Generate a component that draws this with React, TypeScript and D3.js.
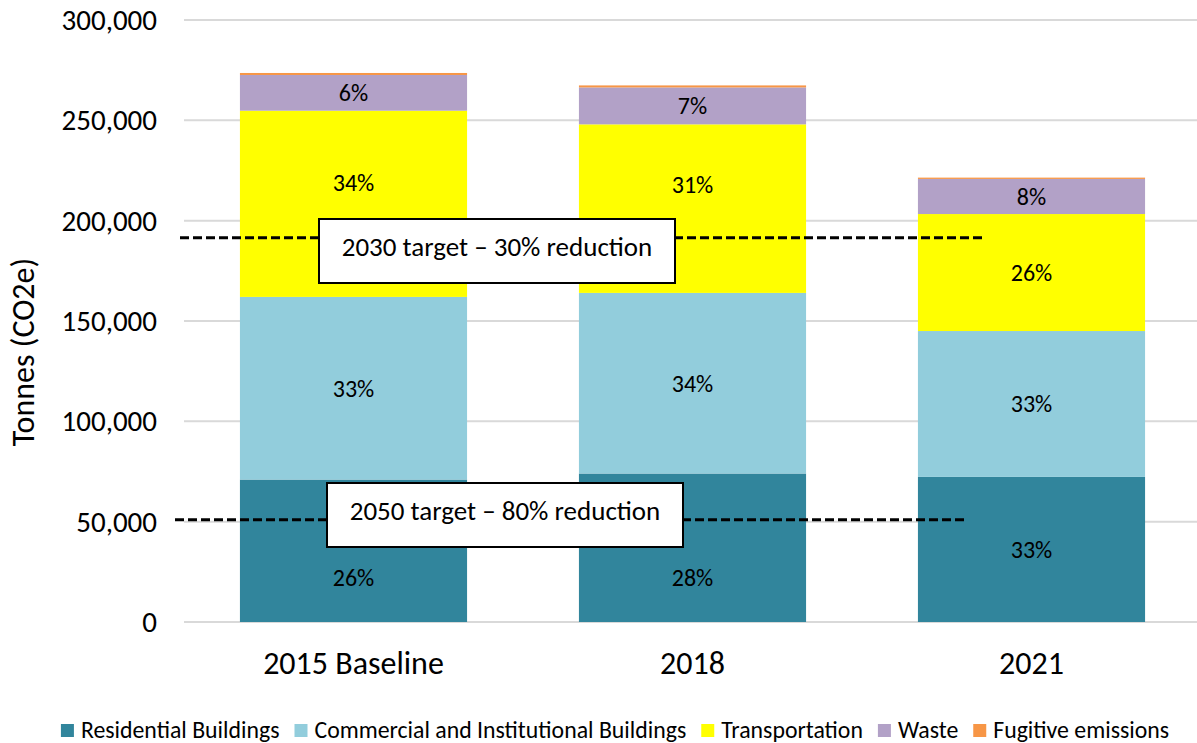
import React from "react";
import * as d3 from "d3";

// ---------- data ----------
const categories = ["2015 Baseline", "2018", "2021"];
const seriesNames = [
  "Residential Buildings",
  "Commercial and Institutional Buildings",
  "Transportation",
  "Waste",
  "Fugitive emissions",
];
const residential = [71000, 74000, 72300];
const commercial = [91000, 90000, 72700];
const transportation = [92800, 84000, 58300];
const waste = [17800, 18400, 17500];
const fugitive = [1000, 1000, 650];

const residentialLabels = ["26%", "28%", "33%"];
const commercialLabels = ["33%", "34%", "33%"];
const transportationLabels = ["34%", "31%", "26%"];
const wasteLabels = ["6%", "7%", "8%"];

const yTicks = [0, 50000, 100000, 150000, 200000, 250000, 300000];
const yTitle = "Tonnes (CO2e)";

const targetNames = ["2030 target – 30% reduction", "2050 target – 80% reduction"];
const targetValues = [191500, 51000];

// ---------- style / layout ----------
const W = 1197;
const H = 743;
const FONT = "Carlito, Lato, 'Open Sans', sans-serif";
const colors = ["#31859C", "#92CDDC", "#FFFF00", "#B2A1C7", "#F79646"];
const plotLeft = 184;
const plotTop = 20;
const plotBottom = 622;

// label nudges (px) for labels moved away from the target boxes
const labelNudge: Record<string, number> = {
  "0-0": 27,
  "0-2": -21,
  "1-0": 30,
  "1-2": -24,
};
// target line extents and box placement (px)
const targetLayout = [
  { x1: 180, x2: 985, bx: 319, bw: 356, by: 219, bh: 64 },
  { x1: 175, x2: 965, bx: 327, bw: 356, by: 483, bh: 64 },
];

function measure(text: string, size: number): number {
  const c = document.createElement("canvas");
  const ctx = c.getContext("2d")!;
  ctx.font = `${size}px ${FONT}`;
  return ctx.measureText(text).width;
}

export default function App() {
  const series = [residential, commercial, transportation, waste, fugitive];
  const labels = [residentialLabels, commercialLabels, transportationLabels, wasteLabels, null];

  const rows = categories.map((c, i) => {
    const r: any = { cat: c };
    seriesNames.forEach((s, k) => (r[s] = series[k][i]));
    return r;
  });
  const stacked = d3.stack<any>().keys(seriesNames)(rows);

  const x = d3
    .scaleBand<string>()
    .domain(categories)
    .range([plotLeft, plotLeft + 3 * 339])
    .paddingInner(0.33)
    .paddingOuter(0.165);
  const y = d3.scaleLinear().domain([0, 300000]).range([plotBottom, plotTop]);
  const fmt = d3.format(",");

  // legend layout
  const legendFont = 23.8;
  const sw = 13;
  const gapSwText = 7;
  const gapItems = 15;
  const widths = seriesNames.map((s) => sw + gapSwText + measure(s, legendFont));
  const totalW = d3.sum(widths) + gapItems * (seriesNames.length - 1);
  let lx = 615 - totalW / 2;
  const legendItems = seriesNames.map((s, k) => {
    const item = { s, x: lx, color: colors[k] };
    lx += widths[k] + gapItems;
    return item;
  });

  return (
    <svg
      width={W}
      height={H}
      style={{ position: "fixed", left: 0, top: 0, background: "#fff" }}
      fontFamily={FONT}
    >
      <rect x={0} y={0} width={W} height={H} fill="#fff" />
      {/* gridlines */}
      {yTicks.map((t) => (
        <line
          key={t}
          x1={plotLeft}
          x2={W}
          y1={y(t)}
          y2={y(t)}
          stroke="#D9D9D9"
          strokeWidth={2}
        />
      ))}
      {/* y tick labels */}
      {yTicks.map((t) => (
        <text
          key={"l" + t}
          x={157}
          y={y(t)}
          dy="0.35em"
          textAnchor="end"
          fontSize={29}
          fill="#000"
        >
          {fmt(t)}
        </text>
      ))}
      <text
        transform={`translate(34,${352}) rotate(-90)`}
        textAnchor="middle"
        fontSize={32}
        fill="#000"
      >
        {yTitle}
      </text>
      {/* bars */}
      {stacked.map((layer, k) => (
        <g key={layer.key} fill={colors[k]}>
          {layer.map((d, i) => (
            <rect
              key={i}
              x={x(categories[i])!}
              width={x.bandwidth()}
              y={y(d[1])}
              height={y(d[0]) - y(d[1])}
            />
          ))}
        </g>
      ))}
      {/* data labels */}
      {stacked.map((layer, k) =>
        labels[k]
          ? layer.map((d, i) => (
              <text
                key={`${k}-${i}`}
                x={x(categories[i])! + x.bandwidth() / 2}
                y={(y(d[0]) + y(d[1])) / 2 + (labelNudge[`${i}-${k}`] || 0)}
                dy="0.35em"
                textAnchor="middle"
                fontSize={24}
                fill="#000"
              >
                {labels[k]![i]}
              </text>
            ))
          : null
      )}
      {/* x labels */}
      {categories.map((c) => (
        <text
          key={c}
          x={x(c)! + x.bandwidth() / 2}
          y={663}
          dy="0.35em"
          textAnchor="middle"
          fontSize={32}
          fill="#000"
        >
          {c}
        </text>
      ))}
      {/* targets */}
      {targetNames.map((name, j) => {
        const L = targetLayout[j];
        return (
          <g key={name}>
            <line
              x1={L.x1}
              x2={L.x2}
              y1={y(targetValues[j])}
              y2={y(targetValues[j])}
              stroke="#000"
              strokeWidth={3}
              strokeDasharray="9,4"
            />
            <rect
              x={L.bx}
              y={L.by}
              width={L.bw}
              height={L.bh}
              fill="#fff"
              stroke="#000"
              strokeWidth={2}
            />
            <text
              x={L.bx + L.bw / 2}
              y={L.by + L.bh / 2 - 4}
              dy="0.35em"
              textAnchor="middle"
              fontSize={27}
              fill="#000"
            >
              {name}
            </text>
          </g>
        );
      })}
      {/* legend */}
      {legendItems.map((it) => (
        <g key={it.s}>
          <rect x={it.x} y={724} width={sw} height={sw} fill={it.color} />
          <text x={it.x + sw + gapSwText} y={730} dy="0.35em" fontSize={legendFont} fill="#000">
            {it.s}
          </text>
        </g>
      ))}
    </svg>
  );
}
